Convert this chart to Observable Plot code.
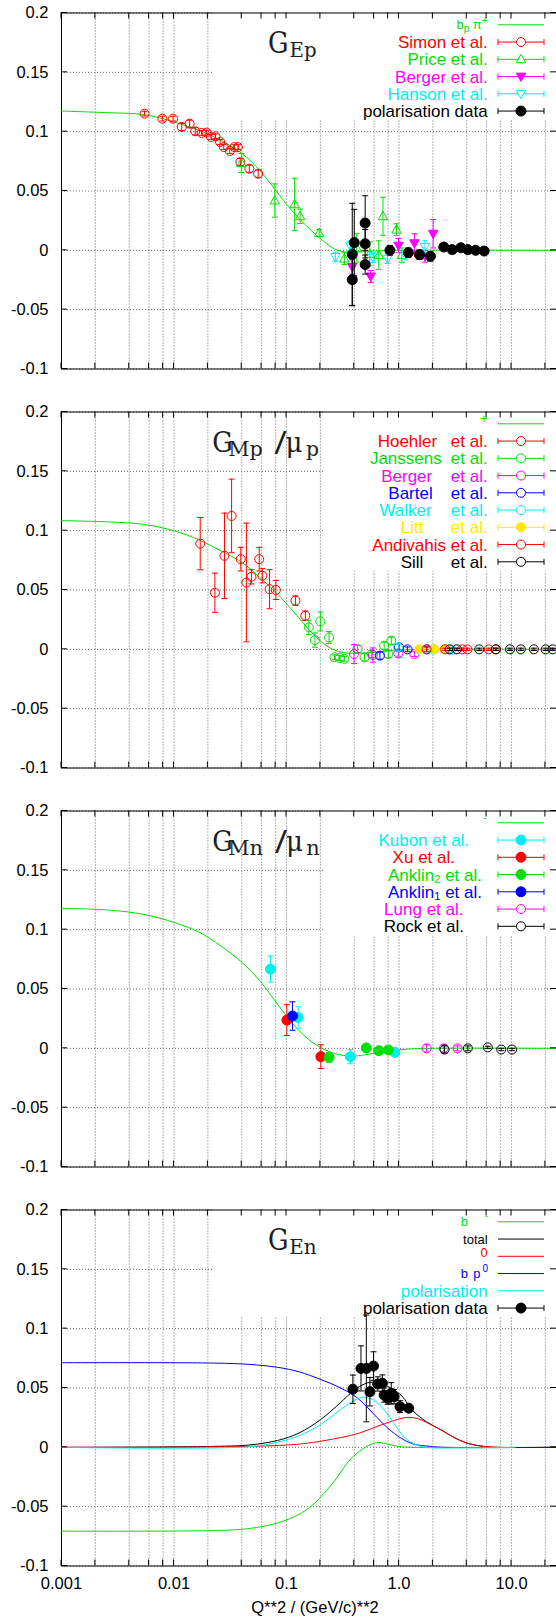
<!DOCTYPE html>
<html><head><meta charset="utf-8">
<script src="https://cdn.jsdelivr.net/npm/d3@7"></script>
<script src="https://cdn.jsdelivr.net/npm/@observablehq/plot@0.6"></script>
<style>
html,body{margin:0;padding:0;background:#fff;}
#chart{width:556px;}
#chart svg{display:block;}
</style></head><body><div id="chart"></div>
<script>
// ---------------- data (Q^2 in (GeV/c)^2, value, error) ----------------
const xDecades = [0.001, 0.01, 0.1, 1, 10];
const xTickLabels = ["0.001", "0.01", "0.1", "1.0", "10.0"];
const xMantissas = [1, 2, 4, 6, 8];
const yTicks = [-0.1, -0.05, 0, 0.05, 0.1, 0.15, 0.2];
const xAxisTitle = "Q**2 / (GeV/c)**2";

// Panel 1: G_Ep
const curveEp = [[0.001,0.1174],[0.00255,0.116],[0.00547,0.1143],[0.0101,0.108],[0.0169,0.101],[0.0261,0.0927],[0.0403,0.0815],[0.0579,0.0674],[0.08,0.0506],[0.111,0.0337],[0.149,0.021],[0.2,0.0098],[0.256,0.0022],[0.308,-0.0008],[0.384,-0.0017],[0.59,-0.0006],[0.99,0],[25.1,0]];
const simonEp = [[0.00547,0.1152,0.002],[0.00787,0.111,0.002],[0.0098,0.111,0.002],[0.01172,0.104,0.003],[0.01377,0.1067,0.003],[0.01545,0.1003,0.003],[0.0176,0.0989,0.002],[0.0195,0.0992,0.002],[0.0213,0.0955,0.002],[0.0234,0.0961,0.002],[0.0257,0.0913,0.002],[0.0277,0.087,0.002],[0.0313,0.0837,0.002],[0.0344,0.087,0.002],[0.037,0.087,0.002],[0.0389,0.0744,0.003],[0.0467,0.0688,0.003],[0.056,0.0646,0.003]];
const priceEp = [[0.0397,0.0736,0.008],[0.0787,0.042,0.014],[0.118,0.0388,0.022],[0.132,0.0287,0.006],[0.195,0.0146,0.003],[0.327,-0.007,0.005],[0.42,0.002,0.012],[0.55,-0.003,0.01],[0.66,-0.004,0.012],[0.72,0.0287,0.016],[0.95,0.0174,0.005],[1.06,-0.004,0.006]];
const bergerEp = [[0.384,-0.014,0.006],[0.56,-0.022,0.005],[0.99,0.004,0.006],[1.37,0.006,0.008],[1.7,-0.005,0.005],[2.01,0.014,0.012]];
const hansonEp = [[0.272,-0.0056,0.004],[0.37,0.004,0.004],[0.59,-0.006,0.004],[0.79,-0.007,0.004],[1.14,-0.004,0.004],[1.7,0.003,0.005]];
const polEp = [[0.384,-0.0034,0.043],[0.384,-0.0247,0.022],[0.4,0.0065,0.028],[0.5,0.023,0.023],[0.5,0.0056,0.012],[0.5,-0.012,0.008],[0.83,0,0.004],[1.21,-0.002,0.004],[1.52,-0.0037,0.004],[1.9,-0.005,0.004],[2.5,0.0028,0.002],[2.97,0.0006,0.002],[3.54,0.0022,0.002],[4.09,0.0006,0.002],[4.8,0,0.002],[5.71,-0.0006,0.002]];

// Panel 2: G_Mp / mu_p
const curveMp = [[0.001,0.1085],[0.00255,0.1074],[0.0053,0.1054],[0.0101,0.0998],[0.0169,0.092],[0.0261,0.083],[0.0403,0.0732],[0.0579,0.0606],[0.089,0.0437],[0.128,0.0269],[0.172,0.0129],[0.231,0.0025],[0.286,-0.0017],[0.384,-0.0034],[0.515,-0.003],[0.74,-0.0017],[1.06,-0.0006],[1.76,0],[25.1,0]];
const hoehlerMp = [[0.0171,0.0891,0.022],[0.0231,0.0477,0.0165],[0.0281,0.0788,0.036],[0.0325,0.1124,0.031],[0.0392,0.076,0.01],[0.044,0.0563,0.05],[0.0488,0.0611,0.006],[0.0572,0.076,0.01],[0.061,0.062,0.006],[0.0707,0.0507,0.0165],[0.0804,0.05,0.008],[0.12,0.041,0.004],[0.147,0.0283,0.004]];
const janssensMp = [[0.158,0.0185,0.006],[0.179,0.0078,0.006],[0.2,0.0235,0.008],[0.239,0.01,0.005],[0.267,-0.0067,0.002],[0.297,-0.0073,0.002],[0.327,-0.008,0.002],[0.428,0.0003,0.003],[0.494,-0.0067,0.003],[0.571,-0.0039,0.003],[0.738,0.003,0.003],[0.804,-0.004,0.003],[0.853,0.0073,0.003]];
const bergerMp = [[0.398,-0.004,0.008],[0.585,-0.0048,0.006],[0.986,-0.0034,0.003],[1.37,-0.004,0.002]];
const bartelMp = [[0.676,-0.0053,0.003],[1.0,0.0017,0.003],[1.19,0,0.002],[1.76,0,0.002]];
const walkerMp = [[0.98,0.0017,0.003],[2.04,0,0.002],[2.93,-0.0005,0.002]];
const littMp = [[1.52,0,0.001],[2.07,0,0.001],[2.53,0,0.001]];
const andivahisMp = [[1.76,0,0.002],[2.57,0,0.001],[3.64,0,0.001],[4.06,0,0.001],[6.28,0,0.001],[7.26,0,0.001]];
const sillMp = [[2.82,0,0.001],[3.27,0,0.001],[5.16,0,0.001],[7.26,0,0.001],[9.7,0,0.001],[12.1,0,0.001],[15.8,0,0.001],[20.1,0,0.001],[23.2,0,0.001]];

// Panel 3: G_Mn / mu_n
const curveMn = [[0.001,0.118],[0.00255,0.1166],[0.0053,0.113],[0.0101,0.106],[0.0169,0.0976],[0.0261,0.0863],[0.0403,0.0723],[0.0579,0.0569],[0.083,0.0373],[0.111,0.0219],[0.149,0.0093],[0.2,0.0008],[0.249,-0.0034],[0.333,-0.0062],[0.41,-0.0065],[0.55,-0.0048],[0.853,-0.002],[1.22,-0.0006],[1.76,0],[25.1,0]];
const kubonMn = [[0.0721,0.0667,0.011],[0.127,0.026,0.009],[0.37,-0.007,0.006],[0.916,-0.0034,0.002]];
const xuMn = [[0.1007,0.0238,0.013],[0.202,-0.007,0.01]];
const anklin2Mn = [[0.239,-0.0076,0.004],[0.512,0.0003,0.002],[0.661,-0.002,0.002],[0.804,-0.0014,0.002]];
const anklin1Mn = [[0.113,0.0272,0.012]];
const lungMn = [[1.76,0,0.003],[2.5,0,0.003],[3.31,0,0.002]];
const rockMn = [[2.54,-0.001,0.003],[4.09,0,0.002],[6.15,0.0008,0.001],[8.1,-0.001,0.001],[10.1,-0.001,0.001]];

// Panel 4: G_En
const curveEnGreen = [[0.001,-0.0706],[0.0225,-0.0701],[0.0467,-0.0684],[0.0834,-0.0637],[0.1288,-0.0566],[0.1724,-0.0482],[0.2307,-0.0356],[0.2866,-0.0244],[0.3563,-0.0118],[0.4433,-0.0034],[0.551,0.0022],[0.6607,0.0041],[0.7932,0.0027],[0.9869,0.0008],[1.32,0],[25.1,0]];
const curveEnTotal = [[0.001,0],[0.0225,0.0008],[0.0467,0.002],[0.0834,0.0058],[0.1288,0.012],[0.1995,0.0232],[0.2866,0.0357],[0.3563,0.0441],[0.4433,0.0511],[0.551,0.0548],[0.685,0.0539],[0.8531,0.0497],[1.061,0.0433],[1.32,0.031],[1.762,0.0215],[2.356,0.0148],[3.15,0.0078],[4.215,0.003],[5.64,0.0008],[7.54,0],[25.1,0]];
const curveEnRed = [[0.001,0],[0.0467,0.0008],[0.1386,0.003],[0.2866,0.0078],[0.4433,0.012],[0.637,0.0176],[0.8531,0.0218],[1.141,0.0251],[1.417,0.0246],[1.762,0.0209],[2.356,0.0148],[3.15,0.0078],[4.215,0.003],[5.64,0.0008],[7.54,0],[25.1,0]];
const curveEnBlue = [[0.001,0.0713],[0.0225,0.071],[0.0467,0.0699],[0.0834,0.0674],[0.1288,0.0637],[0.1995,0.0573],[0.2866,0.0511],[0.4121,0.0427],[0.551,0.0315],[0.7375,0.019],[0.9869,0.0092],[1.32,0.003],[1.895,0.0008],[2.725,0],[25.1,0]];
const curveEnCyan = [[0.001,0],[0.0467,0.0005],[0.0834,0.0044],[0.1288,0.0097],[0.1995,0.019],[0.2866,0.0302],[0.3834,0.0386],[0.4768,0.0422],[0.5927,0.04],[0.7375,0.0316],[0.9176,0.019],[1.141,0.0077],[1.417,0.0022],[1.762,0],[3.645,-0.0004],[10.83,0]];
const polEn = [[0.389,0.0489,0.012],[0.459,0.0665,0.019],[0.512,0.0665,0.045],[0.551,0.0469,0.012],[0.593,0.0685,0.012],[0.647,0.0534,0.006],[0.711,0.054,0.007],[0.738,0.0441,0.006],[0.793,0.0413,0.005],[0.853,0.0455,0.009],[0.904,0.0427,0.006],[1.02,0.0343,0.005],[1.22,0.033,0.003]];

// ---------------- styling / layout ----------------
const COL = {red:"#ff0000", green:"#00e000", blue:"#0000ff", magenta:"#ff00ff", cyan:"#00f0f0", yellow:"#ffe800", black:"#000000"};
const W = 556, ML = 61, MT = 12.5, PLOT_H = 356;
const X_DOMAIN = [0.001, 25.1], Y_DOMAIN = [-0.1, 0.2];
const SANS = "'Liberation Sans', Arial, Helvetica, sans-serif";
const SERIF = "'DejaVu Serif', serif";
const LEG = {lineX1: 498, lineX2: 544, markX: 521, textR: 487.7, row0: 12.3, rowH: 17.25};

const xTicks = xDecades.flatMap(d => xMantissas.map(m => +(m * d).toPrecision(3))).filter(v => v <= X_DOMAIN[1]);
const fmtY = d => String(+d.toFixed(2));

// custom symbols
const triUp = {draw(ctx, size){ const r = Math.sqrt(size/Math.PI); ctx.moveTo(0,-r*1.15); ctx.lineTo(r*1.1, r*0.8); ctx.lineTo(-r*1.1, r*0.8); ctx.closePath(); }};
const triDown = {draw(ctx, size){ const r = Math.sqrt(size/Math.PI); ctx.moveTo(0,r*1.15); ctx.lineTo(r*1.1,-r*0.8); ctx.lineTo(-r*1.1,-r*0.8); ctx.closePath(); }};
const capSym = {draw(ctx, size){ const r = Math.sqrt(size/Math.PI); ctx.moveTo(-r,0); ctx.lineTo(r,0); }};
const circ = d3.symbolCircle;

function seriesMarks(s) {
  const X = d => d[0];
  return [
    Plot.ruleX(s.data, {x: X, y1: d => d[1]-d[2], y2: d => d[1]+d[2], stroke: s.color, strokeWidth: 1}),
    Plot.dot(s.data, {x: X, y: d => d[1]-d[2], symbol: capSym, r: 3, stroke: s.color, fill: "none", strokeWidth: 1}),
    Plot.dot(s.data, {x: X, y: d => d[1]+d[2], symbol: capSym, r: 3, stroke: s.color, fill: "none", strokeWidth: 1}),
    Plot.dot(s.data, {x: X, y: d => d[1], symbol: s.sym, r: s.r, stroke: s.color, fill: s.filled ? s.color : "none", strokeWidth: 1})
  ];
}

const NS = "http://www.w3.org/2000/svg";
function el(parent, tag, attrs) {
  const e = document.createElementNS(NS, tag);
  for (const k in attrs) e.setAttribute(k, attrs[k]);
  parent.appendChild(e);
  return e;
}

function addText(g, piece, y, color) {
  const t = el(g, "text", {x: piece.x, y: y, "text-anchor": piece.anchor || "end", fill: piece.color || color, "font-family": piece.font || SANS});
  let prev = 0;
  for (const p of piece.parts) {
    const dy = p.dy || 0;
    const ts = el(t, "tspan", {"font-size": p.size, dy: dy - prev});
    ts.textContent = p.t;
    prev = dy;
  }
  return t;
}

function panel(cfg) {
  const height = cfg.height;
  const mb = height - MT - PLOT_H;
  const marks = [
    Plot.gridX(xTicks, {stroke: "#6a6a6a", strokeOpacity: 1, strokeDasharray: "1,2", strokeWidth: 1}),
    Plot.gridY(yTicks, {stroke: "#6a6a6a", strokeOpacity: 1, strokeDasharray: "1,2", strokeWidth: 1}),
    Plot.ruleY([Y_DOMAIN[0], Y_DOMAIN[1]], {stroke: "black", strokeWidth: 1}),
    Plot.ruleX([X_DOMAIN[0]], {stroke: "black", strokeWidth: 1}),
    Plot.axisY(yTicks, {tickSize: 0, tickPadding: 13, tickFormat: fmtY, fontSize: 16.5, fill: "black", label: null}),
    ...cfg.curves.map(c => Plot.line(c.data, {x: d => d[0], y: d => d[1], stroke: c.color, strokeWidth: 1, curve: "catmull-rom"})),
    ...cfg.series.flatMap(seriesMarks)
  ];
  const xOpts = {type: "log", domain: X_DOMAIN};
  if (cfg.showX) {
    const lab = new Map(xDecades.map((d, i) => [d, xTickLabels[i]]));
    marks.push(Plot.axisX(xDecades, {tickSize: 0, tickPadding: 11.5, tickFormat: d => lab.get(d), fontSize: 16.5, fill: "black", label: null}));
  } else {
    xOpts.axis = null;
  }
  const plot = Plot.plot({
    width: W, height, marginLeft: ML, marginRight: 0, marginTop: MT, marginBottom: mb,
    x: xOpts, y: {domain: Y_DOMAIN, label: null},
    style: {fontFamily: SANS, fontSize: "16px", background: "white", color: "black"},
    marks
  });
  const x = plot.scale("x"), y = plot.scale("y");
  const top = y.apply(Y_DOMAIN[1]), bot = y.apply(Y_DOMAIN[0]);
  const nRows = cfg.legend.length;

  // opaque key box (hides grid)
  const yg = plot.querySelector('g[aria-label="y-grid"]');
  const box = document.createElementNS(NS, "rect");
  const boxH = LEG.row0 + LEG.rowH * (nRows - 1) + 9;
  box.setAttribute("x", cfg.boxLeft); box.setAttribute("y", top);
  box.setAttribute("width", W - cfg.boxLeft); box.setAttribute("height", boxH);
  box.setAttribute("fill", "white");
  if (yg) yg.after(box);

  const g = el(plot, "g", {});
  // inward ticks
  for (const t of xTicks) {
    const px = x.apply(t);
    el(g, "line", {x1: px, x2: px, y1: top, y2: top + 6, stroke: "black"});
    el(g, "line", {x1: px, x2: px, y1: bot, y2: bot - 6, stroke: "black"});
  }
  for (const t of yTicks) {
    const py = y.apply(t);
    el(g, "line", {x1: ML, x2: ML + 6, y1: py, y2: py, stroke: "black"});
    el(g, "line", {x1: W - 6, x2: W, y1: py, y2: py, stroke: "black"});
  }
  // title: one text element, glyph groups placed as tspans
  const tt = el(g, "text", {x: cfg.title[0].x, y: top + cfg.titleBase, "font-family": SERIF, fill: "#1e1e1e"});
  let prevDy = 0;
  for (const piece of cfg.title) {
    const dy = piece.dy || 0;
    const ts = el(tt, "tspan", {x: piece.x, dy: dy - prevDy, "font-size": piece.size, textLength: piece.w, lengthAdjust: "spacingAndGlyphs"});
    ts.textContent = piece.t;
    prevDy = dy;
  }
  // legend
  cfg.legend.forEach((row, i) => {
    const ry = top + LEG.row0 + LEG.rowH * i;
    for (const piece of row.text) addText(g, piece, ry + 0.35 * piece.parts[0].size, row.color);
    el(g, "line", {x1: LEG.lineX1, x2: LEG.lineX2, y1: ry, y2: ry, stroke: row.color});
    if (row.kind === "point") {
      el(g, "line", {x1: LEG.lineX1, x2: LEG.lineX1, y1: ry - 3, y2: ry + 3, stroke: row.color});
      el(g, "line", {x1: LEG.lineX2, x2: LEG.lineX2, y1: ry - 3, y2: ry + 3, stroke: row.color});
      const path = d3.symbol(row.sym, Math.PI * row.r * row.r)();
      el(g, "path", {d: path, transform: `translate(${LEG.markX},${ry})`, fill: row.filled ? row.color : "white", stroke: row.color});
    }
  });
  if (cfg.showX) {
    const t = el(g, "text", {x: 315, y: bot + 47, "text-anchor": "middle", "font-family": SANS, "font-size": 16.5, fill: "black"});
    t.textContent = xAxisTitle;
  }
  return plot;
}

const R = LEG.textR;
const simple = (s, size = 17) => [{x: R, parts: [{t: s, size}]}];

const p1 = panel({
  height: 399, boxLeft: 212, titleBase: 40.2,
  title: [{t: "G", x: 278.3, w: 20.5, size: 29}, {t: "Ep", x: 303, w: 27, size: 20, dy: 4.5}],
  curves: [{data: curveEp, color: COL.green}],
  series: [
    {data: simonEp, color: COL.red, sym: circ, r: 4.5},
    {data: priceEp, color: COL.green, sym: triUp, r: 4.3},
    {data: bergerEp, color: COL.magenta, sym: triDown, r: 4.3, filled: true},
    {data: hansonEp, color: COL.cyan, sym: triDown, r: 4.3},
    {data: polEp, color: COL.black, sym: circ, r: 5, filled: true}
  ],
  legend: [
    {kind: "line", color: COL.green, text: [{x: R, parts: [{t: "b", size: 13}, {t: "p", size: 10, dy: 3}, {t: " π", size: 13, dy: 0}, {t: "+", size: 10, dy: -5}]}]},
    {kind: "point", color: COL.red, sym: circ, r: 4.5, text: simple("Simon et al.")},
    {kind: "point", color: COL.green, sym: triUp, r: 4.3, text: simple("Price et al.")},
    {kind: "point", color: COL.magenta, sym: triDown, r: 4.3, filled: true, text: simple("Berger et al.")},
    {kind: "point", color: COL.cyan, sym: triDown, r: 4.3, text: simple("Hanson et al.")},
    {kind: "point", color: COL.black, sym: circ, r: 5, filled: true, text: simple("polarisation data")}
  ]
});

const nameEt = (name, nx) => [{x: nx, anchor: "start", parts: [{t: name, size: 17}]}, {x: R, parts: [{t: "et al.", size: 17}]}];
const p2 = panel({
  height: 399, boxLeft: 324, titleBase: 40.2,
  title: [{t: "G", x: 222.5, w: 20.5, size: 28}, {t: "Mp", x: 245.5, w: 34.5, size: 20, dy: 4.5}, {t: "/", x: 280.5, w: 12, size: 28}, {t: "μ", x: 294, w: 17, size: 27}, {t: "p", x: 312.5, w: 13, size: 20, dy: 4.5}],
  curves: [{data: curveMp, color: COL.green}],
  series: [
    {data: hoehlerMp, color: COL.red, sym: circ, r: 4.5},
    {data: janssensMp, color: COL.green, sym: circ, r: 4.5},
    {data: bergerMp, color: COL.magenta, sym: circ, r: 4.5},
    {data: bartelMp, color: COL.blue, sym: circ, r: 4.5},
    {data: walkerMp, color: COL.cyan, sym: circ, r: 4.5},
    {data: littMp, color: COL.yellow, sym: circ, r: 4.5, filled: true},
    {data: andivahisMp, color: COL.red, sym: circ, r: 4.5},
    {data: sillMp, color: COL.black, sym: circ, r: 4.5}
  ],
  legend: [
    {kind: "line", color: COL.green, text: [{x: R, parts: [{t: "+", size: 13, dy: -5}]}]},
    {kind: "point", color: COL.red, sym: circ, r: 4.5, text: nameEt("Hoehler", 377.7)},
    {kind: "point", color: COL.green, sym: circ, r: 4.5, text: nameEt("Janssens", 369.9)},
    {kind: "point", color: COL.magenta, sym: circ, r: 4.5, text: nameEt("Berger", 381.2)},
    {kind: "point", color: COL.blue, sym: circ, r: 4.5, text: nameEt("Bartel", 388.3)},
    {kind: "point", color: COL.cyan, sym: circ, r: 4.5, text: nameEt("Walker", 379.4)},
    {kind: "point", color: COL.yellow, sym: circ, r: 4.5, filled: true, text: nameEt("Litt", 400.7)},
    {kind: "point", color: COL.red, sym: circ, r: 4.5, text: nameEt("Andivahis", 372.3)},
    {kind: "point", color: COL.black, sym: circ, r: 4.5, text: nameEt("Sill", 400.7)}
  ]
});

const mid = (s, cx = 423.8) => [{x: cx, anchor: "middle", parts: [{t: s, size: 17}]}];
const p3 = panel({
  height: 399, boxLeft: 324, titleBase: 40.2,
  title: [{t: "G", x: 222.5, w: 20.5, size: 28}, {t: "Mn", x: 245.5, w: 35, size: 20, dy: 4.5}, {t: "/", x: 281, w: 12, size: 28}, {t: "μ", x: 294.5, w: 17, size: 27}, {t: "n", x: 313, w: 13.5, size: 20, dy: 4.5}],
  curves: [{data: curveMn, color: COL.green}],
  series: [
    {data: kubonMn, color: COL.cyan, sym: circ, r: 5, filled: true},
    {data: xuMn, color: COL.red, sym: circ, r: 5, filled: true},
    {data: anklin2Mn, color: COL.green, sym: circ, r: 5, filled: true},
    {data: anklin1Mn, color: COL.blue, sym: circ, r: 5, filled: true},
    {data: lungMn, color: COL.magenta, sym: circ, r: 4.5},
    {data: rockMn, color: COL.black, sym: circ, r: 4.5}
  ],
  legend: [
    {kind: "line", color: COL.green, text: [{x: R - 1, parts: [{t: "-", size: 10, dy: -5.5}]}]},
    {kind: "point", color: COL.cyan, sym: circ, r: 5, filled: true, text: mid("Kubon et al.")},
    {kind: "point", color: COL.red, sym: circ, r: 5, filled: true, text: mid("Xu et al.")},
    {kind: "point", color: COL.green, sym: circ, r: 5, filled: true, text: [{x: 435, anchor: "middle", parts: [{t: "Anklin", size: 17}, {t: "2", size: 11, dy: 2.5}, {t: " et al.", size: 17, dy: 0}]}]},
    {kind: "point", color: COL.blue, sym: circ, r: 5, filled: true, text: [{x: 435, anchor: "middle", parts: [{t: "Anklin", size: 17}, {t: "1", size: 11, dy: 2.5}, {t: " et al.", size: 17, dy: 0}]}]},
    {kind: "point", color: COL.magenta, sym: circ, r: 4.5, text: mid("Lung et al.")},
    {kind: "point", color: COL.black, sym: circ, r: 4.5, text: mid("Rock et al.")}
  ]
});

const p4 = panel({
  height: 423, boxLeft: 212, titleBase: 40.4, showX: true,
  title: [{t: "G", x: 278.3, w: 20.5, size: 29}, {t: "En", x: 303, w: 27.5, size: 20, dy: 4.5}],
  curves: [
    {data: curveEnGreen, color: COL.green},
    {data: curveEnTotal, color: COL.black},
    {data: curveEnRed, color: COL.red},
    {data: curveEnBlue, color: COL.blue},
    {data: curveEnCyan, color: COL.cyan}
  ],
  series: [{data: polEn, color: COL.black, sym: circ, r: 5, filled: true}],
  legend: [
    {kind: "line", color: COL.green, text: [{x: 468, parts: [{t: "b", size: 13}]}, {x: 488, parts: [{t: "-", size: 9, dy: -6}]}]},
    {kind: "line", color: COL.black, text: [{x: R, parts: [{t: "total", size: 13}]}]},
    {kind: "line", color: COL.red, text: [{x: R, parts: [{t: "0", size: 13, dy: -4}]}]},
    {kind: "line", color: COL.blue, text: [{x: 468, parts: [{t: "b", size: 13}]}, {x: 480.5, parts: [{t: "p", size: 13}]}, {x: 488, parts: [{t: "0", size: 10, dy: -5}]}]},
    {kind: "line", color: COL.cyan, text: simple("polarisation")},
    {kind: "point", color: COL.black, sym: circ, r: 5, filled: true, text: simple("polarisation data")}
  ]
});

const chart = document.getElementById("chart");
[p1, p2, p3, p4].forEach(p => chart.appendChild(p));
</script></body></html>
